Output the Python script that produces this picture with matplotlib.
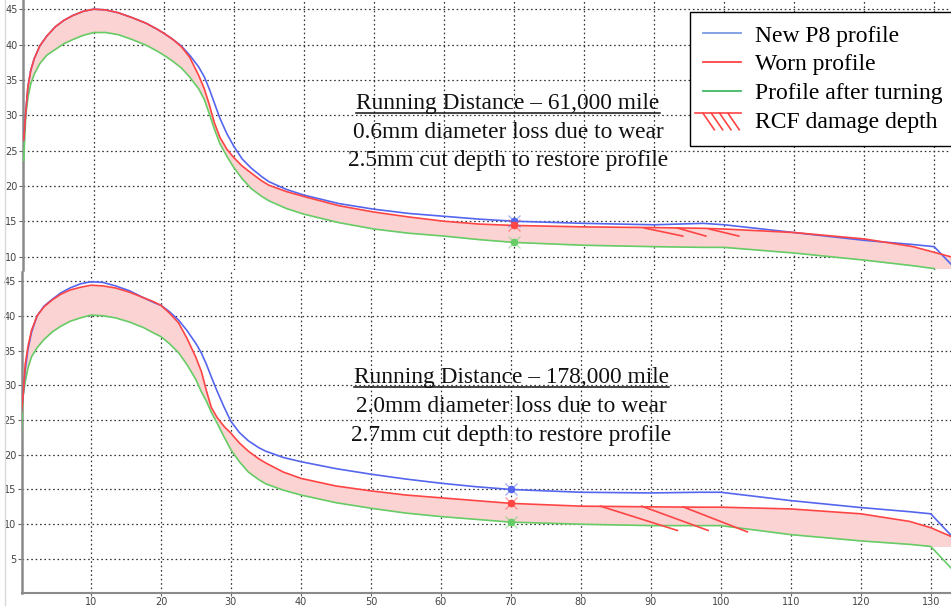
import numpy as np
import matplotlib
matplotlib.use("Agg")
import matplotlib.pyplot as plt
from matplotlib.lines import Line2D
from matplotlib.legend_handler import HandlerBase

# ---- wheel profile data (lateral position vs. flange/tread height) ----
x_pos = [0, 0.3, 0.6, 1.0, 1.5, 2.3, 3.3, 4.5, 5.7, 7, 8.5, 10, 11.7, 13.5, 15.5,
         17.5, 19, 20, 21.2, 22.5, 23.7, 25, 25.8, 26.5, 27.2, 28, 29, 30, 31.2,
         32.5, 34, 35, 37.5, 40, 45, 50, 55, 60, 65, 70, 80, 90, 97, 100, 110,
         120, 127, 130, 133]

# 61,000 mile case
new_61k = [26.5, 30.5, 34.0, 36.3, 38.0, 39.8, 41.2, 42.5, 43.4, 44.1, 44.7, 45.0,
           44.9, 44.5, 43.8, 43.0, 42.2, 41.6, 40.8, 39.8, 38.5, 36.8, 35.4, 33.7,
           31.8, 29.6, 27.4, 25.6, 23.8, 22.5, 21.3, 20.6, 19.5, 18.7, 17.5, 16.7,
           16.1, 15.7, 15.3, 15.0, 14.7, 14.5, 14.7, 14.5, 13.4, 12.3, 11.7, 11.4, 8.3]
worn_61k = [26.5, 30.5, 34.0, 36.3, 38.0, 39.8, 41.2, 42.5, 43.4, 44.1, 44.7, 45.0,
            44.9, 44.5, 43.8, 43.0, 42.2, 41.6, 40.8, 39.7, 38.2, 35.6, 33.7, 31.5,
            29.0, 26.9, 25.2, 24.0, 22.8, 21.8, 20.7, 20.1, 19.2, 18.5, 17.2, 16.3,
            15.6, 15.0, 14.6, 14.4, 14.2, 14.1, 14.0, 13.9, 13.4, 12.5, 11.4, 10.6, 9.8]
turned_61k = [23.6, 30.0, 32.5, 34.4, 35.8, 37.3, 38.5, 39.3, 40.1, 40.7, 41.3, 41.7,
              41.7, 41.4, 40.7, 39.9, 39.1, 38.5, 37.7, 36.7, 35.4, 33.7, 32.2, 30.2,
              28.1, 26.0, 24.2, 22.6, 21.0, 19.6, 18.5, 17.9, 16.8, 16.0, 14.8, 13.9,
              13.3, 12.9, 12.4, 12.0, 11.6, 11.4, 11.3, 11.3, 10.5, 9.5, 8.7, 8.3, np.nan]

# 178,000 mile case
new_178k = [25.5, 28.5, 32.2, 35.2, 37.6, 40.0, 41.4, 42.4, 43.3, 44.0, 44.6, 44.9,
            44.8, 44.3, 43.6, 42.6, 41.9, 41.5, 40.6, 39.4, 37.9, 36.0, 34.6, 33.0,
            31.2, 29.2, 26.9, 24.8, 23.2, 22.0, 21.0, 20.5, 19.6, 19.0, 18.0, 17.2,
            16.5, 15.9, 15.4, 15.0, 14.6, 14.5, 14.6, 14.6, 13.4, 12.4, 11.8, 11.5, 8.3]
worn_178k = [25.5, 28.5, 33.0, 35.6, 37.9, 40.0, 41.3, 42.3, 43.1, 43.7, 44.1, 44.4,
             44.3, 44.0, 43.4, 42.6, 42.0, 41.5, 40.4, 39.0, 36.8, 34.0, 31.9, 29.2,
             26.8, 25.4, 24.1, 23.1, 21.7, 20.5, 19.4, 18.8, 17.5, 16.6, 15.5, 14.8,
             14.2, 13.8, 13.4, 13.0, 12.6, 12.5, 12.45, 12.45, 12.2, 11.5, 10.4, 9.5, 8.2]
turned_178k = [22.0, 28.4, 30.5, 32.5, 34.1, 35.4, 36.6, 37.7, 38.5, 39.2, 39.7, 40.1,
               40.0, 39.7, 39.1, 38.3, 37.5, 37.0, 36.0, 34.7, 33.0, 30.8, 29.0, 27.7,
               26.1, 24.6, 22.6, 20.7, 19.0, 17.5, 16.4, 15.8, 14.9, 14.2, 13.1, 12.3,
               11.6, 11.1, 10.7, 10.3, 10.0, 9.8, 9.8, 9.8, 8.5, 7.6, 7.1, 6.8, 3.6]

# RCF crack depth indications: ((x0, y0), (x1, y1))
rcf_61k = [((88.6, 14.05), (94.1, 12.9)),
           ((93.3, 14.05), (97.4, 12.9)),
           ((97.9, 13.9), (102.1, 12.9))]
rcf_178k = [((82.8, 12.6), (93.8, 9.1)),
            ((88.7, 12.6), (98.2, 9.1)),
            ((94.6, 12.5), (103.8, 8.9))]

marker_x = 70
x_ticks = [10, 20, 30, 40, 50, 60, 70, 80, 90, 100, 110, 120, 130]
y_ticks_top = [10, 15, 20, 25, 30, 35, 40, 45]
y_ticks_bottom = [5, 10, 15, 20, 25, 30, 35, 40, 45]

captions_61k = ["Running Distance \u2013 61,000 mile",
                "0.6mm diameter loss due to wear",
                "2.5mm cut depth to restore profile"]
captions_178k = ["Running Distance \u2013 178,000 mile",
                 "2.0mm diameter loss due to wear",
                 "2.7mm cut depth to restore profile"]
legend_labels = ["New P8 profile", "Worn profile", "Profile after turning",
                 "RCF damage depth"]

# ---- styling ----
C_NEW = "#5566ee"
C_WORN = "#ff4444"
C_TURN = "#66cc66"
C_FILL = "#fbd3d3"
SERIF = ["Liberation Serif", "DejaVu Serif"]

W, H = 951, 606
fig = plt.figure(figsize=(W / 100, H / 100), dpi=100)
fig.patch.set_facecolor("white")


def px_axes(left, top, right, bottom):
    return fig.add_axes([left / W, 1 - bottom / H, (right - left) / W, (bottom - top) / H])


ax_top = px_axes(23, 0, 951, 270)
ax_bot = px_axes(21.7, 272, 951, 593)

x_arr = np.array(x_pos, dtype=float)


def draw_panel(ax, new, worn, turned, rcf, xlim, ylim, yticks):
    new = np.array(new, dtype=float)
    worn = np.array(worn, dtype=float)
    turned = np.array(turned, dtype=float)
    # shaded material between worn surface and turned profile
    edge = turned[x_arr == 130][0]
    lower = np.where(x_arr > 130, edge, turned)
    ax.fill_between(x_arr, lower, worn, color=C_FILL, lw=0, zorder=2)
    ax.plot(x_arr, turned, color=C_TURN, lw=1.2, zorder=3)
    ax.plot(x_arr, new, color=C_NEW, lw=1.2, zorder=3)
    ax.plot(x_arr, worn, color=C_WORN, lw=1.2, zorder=4)
    for (x0, y0), (x1, y1) in rcf:
        ax.plot([x0, x1], [y0, y1], color=C_WORN, lw=1.2, zorder=4)
    i = x_pos.index(marker_x)
    for series, col in ((new, C_NEW), (worn, C_WORN), (turned, C_TURN)):
        ax.plot(marker_x, series[i], marker="x", ms=9, mew=1, color=col, alpha=0.5, zorder=5)
        ax.plot(marker_x, series[i], marker="o", ms=4.5, color=col, zorder=5)
    ax.set_xlim(*xlim)
    ax.set_ylim(*ylim)
    ax.set_xticks(x_ticks)
    ax.set_yticks(yticks)
    ax.grid(True, color="#333333", linestyle=(0, (1.3, 2.2)), lw=0.9, zorder=1)
    ax.set_axisbelow(True)
    for s in ("top", "right"):
        ax.spines[s].set_visible(False)
    ax.spines["left"].set_color("#8a8a8a")
    ax.spines["left"].set_linewidth(1.8)
    ax.tick_params(axis="y", length=3, width=0.8, color="#666666", labelsize=7,
                   labelcolor="#444444", pad=1)
    ax.set_facecolor("white")


draw_panel(ax_top, new_61k, worn_61k, turned_61k, rcf_61k,
           (-0.1, 132.4), (8.1, 46.3), y_ticks_top)
ax_top.spines["bottom"].set_visible(False)
ax_top.tick_params(axis="x", bottom=False, labelbottom=False)

draw_panel(ax_bot, new_178k, worn_178k, turned_178k, rcf_178k,
           (0.1, 132.9), (0.1, 46.3), y_ticks_bottom)
ax_bot.spines["bottom"].set_color("#8a8a8a")
ax_bot.spines["bottom"].set_linewidth(1.5)
ax_bot.tick_params(axis="x", length=2, width=0.8, color="#666666", labelsize=7,
                   labelcolor="#444444", pad=1)

# faint outer frame line on the left
fig.add_artist(Line2D([5 / W, 5 / W], [0, 1], color="#d9d9d9", lw=1,
                      transform=fig.transFigure))


# ---- captions ----
def caption_block(lines, cx, y0, dy):
    texts = []
    for k, line in enumerate(lines):
        t = fig.text(cx / W, 1 - (y0 + k * dy) / H, line, ha="center", va="center",
                     fontsize=16.8, family=SERIF, color="#111111")
        texts.append(t)
    return texts


cap_top = caption_block(captions_61k, 508, 104, 28.5)
cap_bot = caption_block(captions_178k, 511, 378, 28.5)

fig.canvas.draw()
renderer = fig.canvas.get_renderer()
for t in (cap_top[0], cap_bot[0]):
    bb = t.get_window_extent(renderer)
    yline = bb.y0 + 1.5
    fig.add_artist(Line2D([bb.x0 / W, bb.x1 / W], [yline / H, yline / H],
                          color="#111111", lw=1.1, transform=fig.transFigure))


# ---- legend ----
class RCFHandler(HandlerBase):
    def create_artists(self, legend, orig_handle, xdescent, ydescent, width, height,
                       fontsize, trans):
        top = height * 0.9
        arts = [Line2D([-xdescent - 6, width - xdescent], [top, top], color=C_WORN,
                       lw=1.2, transform=trans)]
        for k in range(4):
            xs = -xdescent + width * (0.0 + 0.22 * k)
            arts.append(Line2D([xs, xs + width * 0.3], [top, -ydescent - height * 0.1],
                               color=C_WORN, lw=1.2, transform=trans))
        return arts


handles = [Line2D([], [], color="#7a9ae0", lw=1.3),
           Line2D([], [], color=C_WORN, lw=1.3),
           Line2D([], [], color="#44b866", lw=1.3),
           "rcf"]
leg = fig.legend(handles, legend_labels, loc="upper left",
                 bbox_to_anchor=(690 / W, 1 - 12 / H), bbox_transform=fig.transFigure,
                 prop={"family": SERIF, "size": 17}, frameon=True, fancybox=False,
                 edgecolor="black", framealpha=1, borderaxespad=0, borderpad=0.55,
                 handlelength=1.6, handletextpad=0.6,
                 labelspacing=0.31, handler_map={str: RCFHandler()})
leg.get_frame().set_linewidth(1.0)

fig.savefig("out.png", dpi=100, facecolor="white")
